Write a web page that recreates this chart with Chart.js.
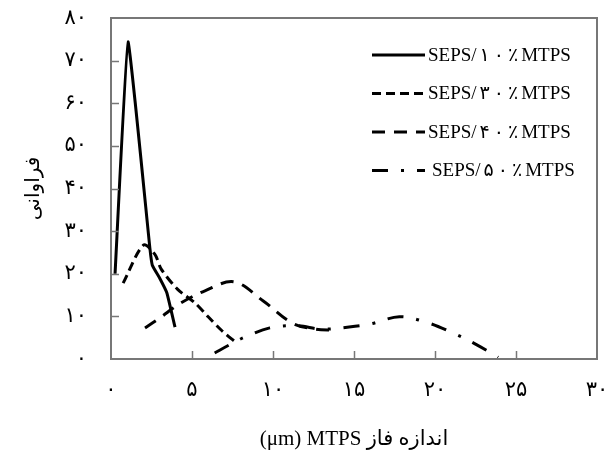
<!DOCTYPE html>
<html><head><meta charset="utf-8">
<script src="https://cdn.jsdelivr.net/npm/chart.js@4/dist/chart.umd.min.js"></script>
<style>html,body{margin:0;padding:0;background:#fff}#wrap{width:608px;height:459px;position:relative}</style>
</head><body><div id="wrap"><canvas id="c"></canvas></div>
<script>
const seriesNames = ['SEPS/۱۰٪MTPS', 'SEPS/۳۰٪MTPS', 'SEPS/۴۰٪MTPS', 'SEPS/۵۰٪MTPS'];
const size10 = [0.25, 1.05, 2.4, 2.55, 3.0, 3.45, 3.95];
const freq10 = [20, 74.4, 26, 22, 19, 15.5, 7.5];
const size30 = [0.75, 2.0, 2.7, 3.1, 4.1, 5.2, 6.0, 6.8, 7.8];
const freq30 = [17.8, 26.7, 24.6, 21.1, 16.4, 13.1, 9.9, 6.8, 3.6];
const size40 = [2.1, 3.0, 4.3, 5.8, 7.6, 9.4, 11.2, 12.6, 13.8];
const freq40 = [7.3, 9.6, 13.1, 16.0, 18.1, 13.6, 8.4, 7.0, 6.8];
const size50 = [6.4, 7.3, 8.3, 9.8, 11.5, 13.0, 14.7, 16.0, 17.8, 19.4, 21.0, 22.5, 23.9];
const freq50 = [1.4, 3.3, 5.2, 7.3, 7.8, 7.0, 7.5, 8.2, 9.9, 8.7, 6.3, 3.5, 0.4];
const xTickLabels = ['۰', '۵', '۱۰', '۱۵', '۲۰', '۲۵', '۳۰'];
const yTickLabels = ['۰', '۱۰', '۲۰', '۳۰', '۴۰', '۵۰', '۶۰', '۷۰', '۸۰'];
const xTitle = '(μm) MTPS اندازه فاز';
const yTitle = 'فراوانی';

const FONT = "'Liberation Serif', 'DejaVu Sans', serif";
const dashes = [[], [9, 5], [13, 9], [16, 13, 3, 13]];
const sizes = [size10, size30, size40, size50];
const freqs = [freq10, freq30, freq40, freq50];
const tensions = [0.1, 0.3, 0.35, 0.35];

const datasets = seriesNames.map((name, i) => ({
  label: name,
  data: sizes[i].map((x, j) => ({x: x, y: freqs[i][j]})),
  borderColor: '#000',
  backgroundColor: '#000',
  borderWidth: 3,
  borderDash: dashes[i],
  pointRadius: 0,
  tension: tensions[i],
  fill: false
}));

const framePlugin = {
  id: 'frame',
  afterDatasetsDraw(chart) {
    const ctx = chart.ctx, a = chart.chartArea;
    const xs = chart.scales.x, ys = chart.scales.y;
    ctx.save();
    ctx.strokeStyle = '#777';
    ctx.lineWidth = 2;
    ctx.setLineDash([]);
    ctx.strokeRect(a.left, a.top, a.right - a.left, a.bottom - a.top);
    ctx.lineWidth = 1.5;
    ctx.beginPath();
    for (let v = 10; v < 80; v += 10) {
      const y = Math.round(ys.getPixelForValue(v)) + 0.5;
      ctx.moveTo(a.left, y); ctx.lineTo(a.left + 8, y);
    }
    for (let v = 5; v < 30; v += 5) {
      const x = Math.round(xs.getPixelForValue(v)) + 0.5;
      ctx.moveTo(x, a.bottom); ctx.lineTo(x, a.bottom - 8);
    }
    ctx.stroke();
    ctx.restore();
  }
};

function drawLegendLabel(ctx, text, x, y) {
  const m = text.match(/^(.*\/)(.*٪)(.*)$/);
  if (!m) { ctx.fillText(text, x, y); return; }
  ctx.fillText(m[1], x, y);
  x += ctx.measureText(m[1]).width + 3;
  for (const ch of m[2]) {
    ctx.fillText(ch, x, y);
    x += ctx.measureText(ch).width + 4;
  }
  ctx.fillText(m[3], x - 1, y);
}

const legendPlugin = {
  id: 'innerLegend',
  afterDraw(chart) {
    const ctx = chart.ctx, a = chart.chartArea;
    ctx.save();
    ctx.font = '19px ' + FONT;
    ctx.fillStyle = '#000';
    ctx.textBaseline = 'middle';
    ctx.textAlign = 'left';
    chart.data.datasets.forEach((ds, i) => {
      const y = a.top + 37 + i * 38.5;
      const x0 = a.right - 225;
      const x1 = x0 + 53;
      ctx.strokeStyle = ds.borderColor;
      ctx.lineWidth = 3;
      ctx.setLineDash(ds.borderDash);
      ctx.beginPath();
      ctx.moveTo(x0, y); ctx.lineTo(x1, y);
      ctx.stroke();
      ctx.setLineDash([]);
      drawLegendLabel(ctx, ds.label, i === 3 ? x0 + 60 : x0 + 56, y + 1);
    });
    ctx.restore();
  }
};

new Chart(document.getElementById('c'), {
  type: 'line',
  data: {datasets: datasets},
  options: {
    responsive: true,
    maintainAspectRatio: false,
    animation: false,
    layout: {padding: {left: 0, right: 11, top: 18, bottom: 0}},
    plugins: {legend: {display: false}, tooltip: {enabled: false}},
    scales: {
      x: {
        type: 'linear', min: 0, max: 30,
        afterFit(s) { s.height = 100; s.paddingLeft = 0; s.paddingRight = 0; },
        grid: {display: false, drawTicks: false},
        border: {display: false},
        ticks: {
          stepSize: 5, padding: 19, color: '#000', maxRotation: 0,
          font: {family: FONT, size: 21},
          callback: (v, i) => xTickLabels[i]
        },
        title: {display: true, text: xTitle, color: '#000', font: {family: FONT, size: 21}, padding: {top: 0, bottom: 7}}
      },
      y: {
        min: 0, max: 80,
        afterFit(s) { s.width = 111; s.paddingTop = 0; s.paddingBottom = 0; },
        grid: {display: false, drawTicks: false},
        border: {display: false},
        ticks: {
          stepSize: 10, padding: 24, color: '#000',
          font: {family: FONT, size: 21},
          callback: (v, i) => yTickLabels[i]
        },
        title: {display: true, text: yTitle, color: '#000', font: {family: FONT, size: 20}, padding: {top: 22, bottom: 0}}
      }
    }
  },
  plugins: [framePlugin, legendPlugin]
});
</script>
</body></html>
